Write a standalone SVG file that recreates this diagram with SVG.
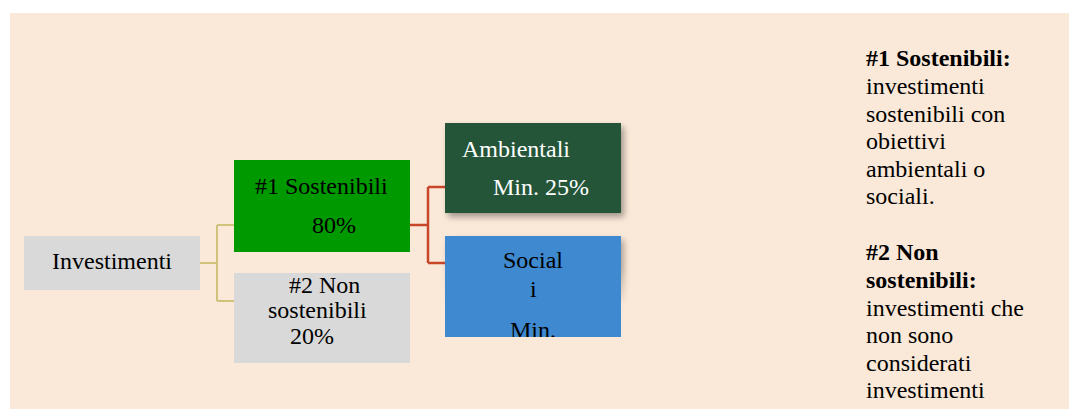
<svg xmlns="http://www.w3.org/2000/svg" width="1069" height="409" viewBox="0 0 1069 409">
<defs>
<style>
text{font-family:"Liberation Serif","Times New Roman",serif;font-size:24px;fill:#000}
.w{fill:#fff}
.b{font-weight:bold}
.c1{fill:none;stroke:#CFC27A;stroke-width:2}
.c2{fill:none;stroke:#C8472A;stroke-width:2.5}
</style>
<filter id="sh" x="-20%" y="-20%" width="140%" height="140%">
<feGaussianBlur stdDeviation="3"/>
</filter>
<clipPath id="clipBlue"><rect x="445" y="236" width="176" height="101"/></clipPath>
<linearGradient id="fade" x1="0" y1="0" x2="0" y2="1">
<stop offset="0" stop-color="#fff"/>
<stop offset="0.5" stop-color="#fff"/>
<stop offset="1" stop-color="#000"/>
</linearGradient>
<mask id="maskShBlue" maskUnits="userSpaceOnUse" x="440" y="230" width="200" height="80">
<rect x="440" y="230" width="200" height="76" fill="url(#fade)"/>
</mask>
</defs>
<rect x="0" y="0" width="1069" height="409" fill="#ffffff"/>
<rect x="10" y="13" width="1059" height="396" fill="#FAE8D8"/>
<g id="connectors">
<path class="c1" d="M200 263 H217 M217 225 V301 M217 225 H234 M217 301 H234"/>
<path class="c2" d="M410 225 H428 M428 187 V263 M428 187 H445 M428 263 H445"/>
</g>
<g id="investimenti">
<rect x="24" y="236" width="176" height="54" fill="#D9D9D9"/>
<text x="52" y="269">Investimenti</text>
</g>
<g id="sostenibili">
<rect x="234" y="160" width="176" height="92" fill="#009900"/>
<text x="255" y="194">#1 Sostenibili</text>
<text x="312" y="233">80%</text>
</g>
<g id="non-sostenibili">
<rect x="234" y="273" width="176" height="90" fill="#D9D9D9"/>
<text x="289" y="293">#2 Non</text>
<text x="268" y="318">sostenibili</text>
<text x="290" y="344">20%</text>
</g>
<g id="ambientali">
<rect x="448" y="127" width="176" height="90" fill="#000" opacity="0.35" filter="url(#sh)"/>
<rect x="445" y="123" width="176" height="90" fill="#245539"/>
<text class="w" x="462" y="157">Ambientali</text>
<text class="w" x="493" y="195">Min. 25%</text>
</g>
<g id="sociali">
<g mask="url(#maskShBlue)">
<rect x="448" y="240" width="176" height="101" fill="#000" opacity="0.3" filter="url(#sh)"/>
</g>
<rect x="445" y="236" width="176" height="101" fill="#3E89D0"/>
<g clip-path="url(#clipBlue)">
<text x="503" y="268">Social</text>
<text x="530" y="297">i</text>
<text x="510" y="338">Min.</text>
</g>
</g>
<g id="legenda">
<text class="b" x="866" y="66">#1 Sostenibili:</text>
<text x="866" y="93.5">investimenti</text>
<text x="866" y="121.5">sostenibili con</text>
<text x="866" y="149">obiettivi</text>
<text x="866" y="176.5">ambientali o</text>
<text x="866" y="204">sociali.</text>
<text class="b" x="866" y="260">#2 Non</text>
<text class="b" x="866" y="288">sostenibili:</text>
<text x="866" y="315.5">investimenti che</text>
<text x="866" y="343">non sono</text>
<text x="866" y="371">considerati</text>
<text x="866" y="398">investimenti</text>
</g>
</svg>
